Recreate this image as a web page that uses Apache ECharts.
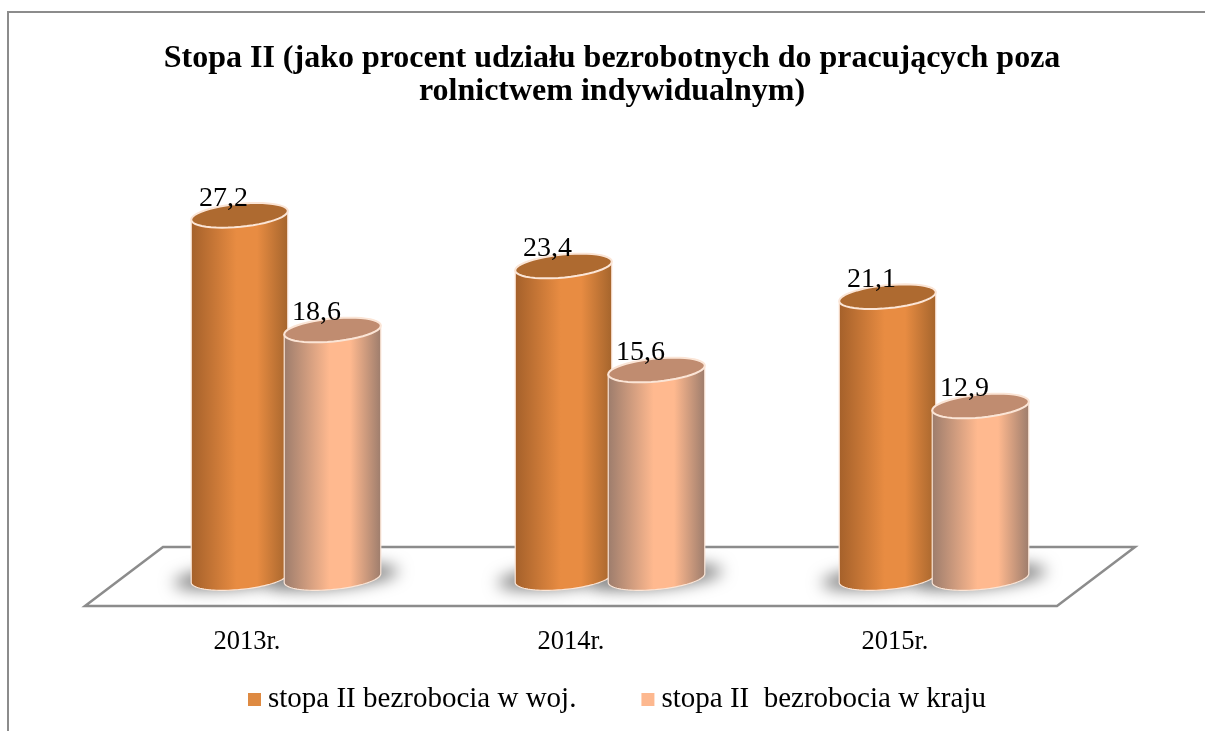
<!DOCTYPE html>
<html>
<head>
<meta charset="utf-8">
<style>html,body{margin:0;padding:0;background:#fff}#chart{width:1205px;height:731px}</style>
<script src="https://cdn.jsdelivr.net/npm/echarts@6/dist/echarts.min.js"></script>
</head>
<body>
<div id="chart"></div>
<script>
var categories = ['2013r.', '2014r.', '2015r.']
var wojValues = [27.2, 23.4, 21.1]
var krajValues = [18.6, 15.6, 12.9]
var wojName = 'stopa II bezrobocia w woj.'
var krajName = 'stopa II  bezrobocia w kraju'

var SERIF = '"Liberation Serif", "Times New Roman", serif'
var depthX = 39
var depthY = -28
var radiusX = 48.5
var radiusY = 11.5
var tilt = 5.5 * Math.PI / 180

// tilted ellipse as polygon points, from angle a0 to a1
function arc(cx, cy, rx, ry, a0, a1) {
	var pts = []
	for (var i = 0; i <= 48; i++) {
		var a = a0 + (a1 - a0) * i / 48
		var ex = rx * Math.cos(a)
		var ey = ry * Math.sin(a)
		pts.push([
			cx + ex * Math.cos(tilt) + ey * Math.sin(tilt),
			cy - ex * Math.sin(tilt) + ey * Math.cos(tilt),
		])
	}
	return pts
}

function sideGradient(edge, mid, edge2) {
	return {
		type: 'linear', x: 0, y: 0, x2: 1, y2: 0,
		colorStops: [
			{ offset: 0, color: edge },
			{ offset: 0.47, color: mid },
			{ offset: 0.68, color: mid },
			{ offset: 1, color: edge2 },
		],
	}
}

function cylinderItem(shift, colors) {
	return function (params, api) {
		var base = api.coord([api.value(0), 0])
		var top = api.coord([api.value(0), api.value(1)])
		var cx = base[0] + shift + depthX
		var by = base[1] + depthY
		var ty = top[1] + depthY
		var body = [arc(cx, ty, radiusX, radiusY, Math.PI, Math.PI)[0]]
			.concat(arc(cx, by, radiusX, radiusY, Math.PI, 0))
			.concat([arc(cx, ty, radiusX, radiusY, 0, 0)[0]])
		return {
			type: 'group',
			children: [
				{
					type: 'polygon',
					shape: { points: body },
					style: { fill: sideGradient(colors[0], colors[1], colors[2]), stroke: colors[4], lineWidth: 1.2 },
				},
				{
					type: 'polygon',
					shape: { points: arc(cx, ty, radiusX, radiusY, 0, 2 * Math.PI) },
					style: { fill: colors[3], stroke: colors[4], lineWidth: 2 },
				},
				{
					type: 'text',
					style: {
						text: String(api.value(1)).replace('.', ','),
						x: cx - 16,
						y: ty - 17,
						align: 'center',
						verticalAlign: 'middle',
						fill: '#000',
						font: '28px ' + SERIF,
					},
				},
			],
		}
	}
}

function floorItem(params, api) {
	var cs = params.coordSys
	var children = []
	if (params.dataIndex === 0) {
		var left = cs.x
		var right = cs.x + cs.width
		var front = cs.y + cs.height
		children.push({
			type: 'polygon',
			shape: { points: [[left, front], [left + 78, front - 59], [right + 78, front - 59], [right, front]] },
			style: { fill: '#fff', stroke: '#8c8c8c', lineWidth: 2.5 },
		})
	}
	var base = api.coord([api.value(0), 0])
	var hide = 3000 // shape sits off canvas, only its blurred shadow lands on the floor
	;[-46.5, 46.5].forEach(function (shift) {
		children.push({
			type: 'polygon',
			shape: { points: arc(base[0] + shift + depthX - hide, base[1] + depthY - 1, 66, 11, 0, 2 * Math.PI) },
			style: { fill: '#7c7c7c', shadowBlur: 16, shadowColor: '#7c7c7c', shadowOffsetX: hide },
		})
	})
	return { type: 'group', children: children }
}

var chart = echarts.init(document.getElementById('chart'))

var option = {
	animation: false,
	backgroundColor: '#fff',
	title: {
		text: 'Stopa II (jako procent udziału bezrobotnych do pracujących poza\nrolnictwem indywidualnym)',
		left: 607,
		top: 37,
		textAlign: 'center',
		textStyle: { fontFamily: SERIF, fontWeight: 'bold', fontSize: 32, lineHeight: 33, color: '#000' },
	},
	legend: {
		data: [wojName, krajName],
		left: 248,
		top: 685,
		padding: 0,
		icon: 'rect',
		itemWidth: 13,
		itemHeight: 13,
		itemGap: 65,
		textStyle: { fontFamily: SERIF, fontSize: 29, color: '#000', padding: [0, 0, 0, 2] },
	},
	grid: { left: 85, right: 148, top: 206, bottom: 125 },
	xAxis: {
		type: 'category',
		data: categories,
		axisLine: { show: false },
		axisTick: { show: false },
		axisLabel: { margin: 23, color: '#000', fontFamily: SERIF, fontSize: 26.5 },
	},
	yAxis: { type: 'value', min: 0, max: 30, show: false },
	graphic: [
		{
			type: 'polyline',
			shape: { points: [[8, 731], [8, 12], [1205, 12]] },
			style: { fill: 'none', stroke: '#8c8c8c', lineWidth: 2 },
			silent: true,
		},
	],
	series: [
		{
			type: 'custom',
			name: 'floor',
			renderItem: floorItem,
			encode: { x: 0, y: 1 },
			data: categories.map(function (c, i) { return [i, 0] }),
			silent: true,
		},
		{
			type: 'custom',
			name: wojName,
			itemStyle: { color: '#DE8A42' },
			renderItem: cylinderItem(-46.5, ['#A4602A', '#E88C42', '#A4642C', '#AE6A30', '#FBE5D6']),
			encode: { x: 0, y: 1 },
			data: wojValues.map(function (v, i) { return [i, v] }),
		},
		{
			type: 'custom',
			name: krajName,
			itemStyle: { color: '#FDB88F' },
			renderItem: cylinderItem(46.5, ['#9C7C6C', '#FFB98F', '#9C7C6C', '#C08C70', '#FBE5D6']),
			encode: { x: 0, y: 1 },
			data: krajValues.map(function (v, i) { return [i, v] }),
		},
	],
}

option && chart.setOption(option)
</script>
</body>
</html>
